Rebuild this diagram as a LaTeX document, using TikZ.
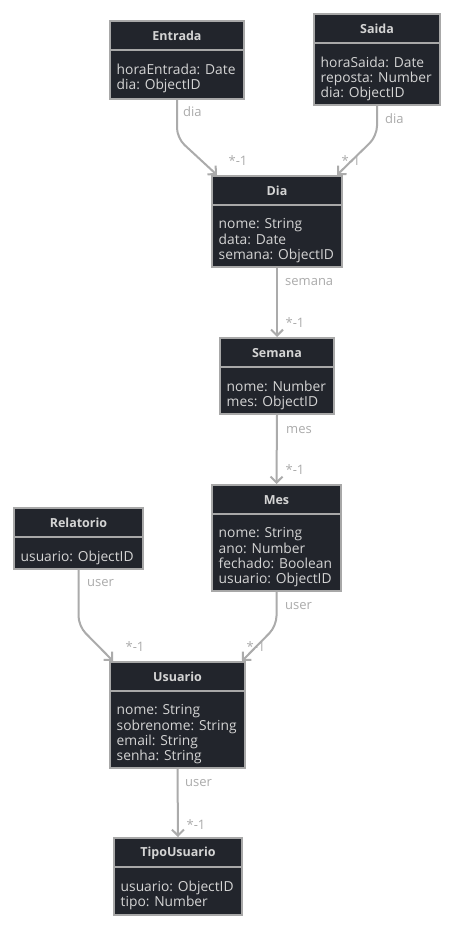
\documentclass[tikz,border=0pt]{standalone}
\usepackage{fontspec}
\setmainfont{Open Sans}
\usetikzlibrary{arrows.meta,calc}
\definecolor{boxfill}{HTML}{22252C}
\definecolor{boxedge}{HTML}{A8A8A8}
\definecolor{boxtext}{HTML}{D4D4D4}
\definecolor{linkgray}{HTML}{ABABAB}
\tikzset{
  clsbox/.style={draw=boxedge, fill=boxfill, line width=2pt, inner sep=0pt},
  clsline/.style={draw=boxedge, line width=2pt},
  clstitle/.style={text=boxtext, font=\bfseries\fontsize{12.5}{14}\selectfont, inner sep=0pt},
  clsbody/.style={text=boxtext, font=\fontsize{13.8}{15.3}\selectfont, align=left, inner sep=0pt},
  link/.style={draw=linkgray, line width=2pt, rounded corners=10pt,
    -{Straight Barb[length=6pt,width=12pt,line width=2pt]}},
  lbl/.style={text=linkgray, font=\fontsize{13}{14}\selectfont, inner sep=0pt}
}
% class box: name, left x, top y, width, height, title, attribute lines
\newcommand\umlcls[7]{%
  \node[clsbox, minimum width=#4pt, minimum height=#5pt, anchor=north west] (#1) at (#2,#3) {};
  \draw[clsline] ([yshift=-30pt]#1.north west) -- ([yshift=-30pt]#1.north east);
  \node[clstitle] (#1-t) at ([yshift=-16pt]#1.north) {#6};
  \node[clsbody, anchor=north west] (#1-b) at ([xshift=7.5pt,yshift=-43.5pt]#1.north west) {#7};
}
\begin{document}
\begin{tikzpicture}[x=1pt,y=-1pt]
\useasboundingbox (0,0) rectangle (452,928);
\fill[white] (0,0) rectangle (452,928);

\umlcls{entrada}{109}{20}{134}{78}{Entrada}{horaEntrada: Date\\dia: ObjectID}
\umlcls{saida}{313}{13}{126}{91}{Saida}{horaSaida: Date\\reposta: Number\\dia: ObjectID}
\umlcls{dia}{211}{175}{130}{91}{Dia}{nome: String\\data: Date\\semana: ObjectID}
\umlcls{semana}{219}{337}{114}{76}{Semana}{nome: Number\\mes: ObjectID}
\umlcls{mes}{211}{484}{129}{106}{Mes}{nome: String\\ano: Number\\fechado: Boolean\\usuario: ObjectID}
\umlcls{relatorio}{13}{507}{129}{61}{Relatorio}{usuario: ObjectID}
\umlcls{usuario}{109}{661}{135}{106}{Usuario}{nome: String\\sobrenome: String\\email: String\\senha: String}
\umlcls{tipo}{113}{837}{128}{77}{TipoUsuario}{usuario: ObjectID\\tipo: Number}

% connectors
\draw[link] (entrada.south) -- ++(0,38) -- ($(dia.north west)+(6,0)$);
\draw[link] (saida.south) -- ++(0,30) -- ($(dia.north east)+(-6,0)$);
\draw[link] (dia.south) -- (semana.north);
\draw[link] (semana.south) -- (mes.north);
\draw[link] (relatorio.south) -- ++(0,56) -- ($(usuario.north west)+(4,0)$);
\draw[link] (mes.south) -- ++(0,34) -- ($(usuario.north east)+(-4,0)$);
\draw[link] (usuario.south) -- (tipo.north);

% connector labels
\node[lbl, anchor=west] (l1) at (183,112) {dia};
\node[lbl] (m1) at (238,161) {*-1};
\node[lbl, anchor=west] (l2) at (385,119) {dia};
\node[lbl] (m2) at (351,161) {*-1};
\node[lbl, anchor=west] (l3) at (285,282) {semana};
\node[lbl] (m3) at (295,323) {*-1};
\node[lbl, anchor=west] (l4) at (286,430) {mes};
\node[lbl] (m4) at (295,470) {*-1};
\node[lbl, anchor=west] (l5) at (87,583) {user};
\node[lbl] (m5) at (135,647) {*-1};
\node[lbl, anchor=west] (l6) at (285,606) {user};
\node[lbl] (m6) at (256,647) {*-1};
\node[lbl, anchor=west] (l7) at (185,783) {user};
\node[lbl] (m7) at (196,825) {*-1};
\end{tikzpicture}
\end{document}
